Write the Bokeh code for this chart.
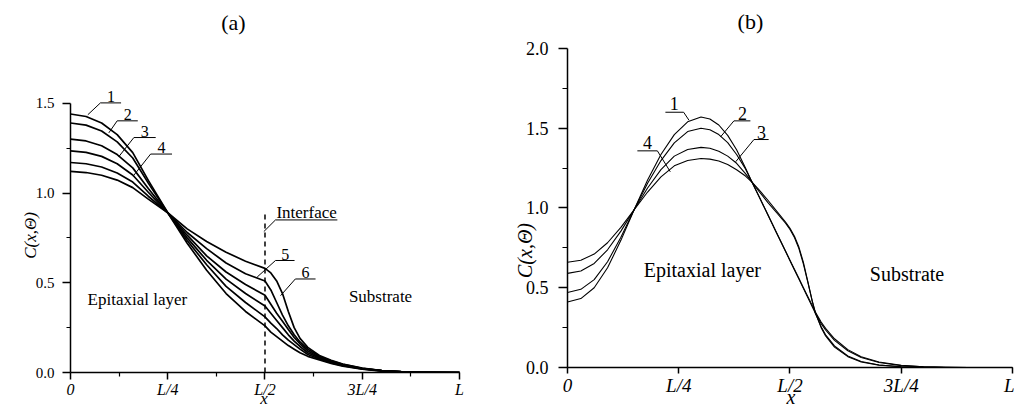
from bokeh.plotting import figure
from bokeh.models import Range1d, FixedTicker, PrintfTickFormatter
from bokeh.layouts import row
from bokeh.core.properties import value
from bokeh.embed import file_html
from bokeh.resources import INLINE

# ---------------- data: panel (a) ----------------
XA = [0, 0.04, 0.08, 0.12, 0.16, 0.20, 0.25, 0.30, 0.35, 0.40, 0.45, 0.50,
      0.515, 0.53, 0.545, 0.56, 0.575, 0.59, 0.61, 0.64, 0.67, 0.70, 0.75,
      0.80, 0.85, 0.90, 1.0]
A1 = [1.44, 1.426, 1.39, 1.325, 1.225, 1.07, 0.89, 0.72, 0.57, 0.44, 0.34, 0.26,
      0.225, 0.20, 0.175, 0.15, 0.13, 0.11, 0.09, 0.07, 0.05, 0.035, 0.018,
      0.008, 0.003, 0.001, 0]
A2 = [1.39, 1.378, 1.345, 1.285, 1.195, 1.055, 0.89, 0.735, 0.60, 0.48, 0.39, 0.31,
      0.275, 0.245, 0.21, 0.18, 0.155, 0.13, 0.10, 0.075, 0.054, 0.038, 0.02,
      0.009, 0.0035, 0.001, 0]
A3 = [1.30, 1.29, 1.263, 1.214, 1.14, 1.025, 0.89, 0.75, 0.625, 0.52, 0.44, 0.37,
      0.33, 0.29, 0.25, 0.21, 0.175, 0.145, 0.11, 0.08, 0.058, 0.041, 0.021,
      0.01, 0.004, 0.0015, 0]
A4 = [1.235, 1.226, 1.204, 1.163, 1.10, 1.004, 0.89, 0.765, 0.65, 0.56, 0.49, 0.43,
      0.38, 0.33, 0.285, 0.24, 0.195, 0.16, 0.12, 0.085, 0.062, 0.043, 0.022,
      0.01, 0.004, 0.0015, 0]
A5 = [1.17, 1.163, 1.145, 1.111, 1.061, 0.982, 0.89, 0.78, 0.69, 0.61, 0.55, 0.51,
      0.46, 0.39, 0.32, 0.26, 0.21, 0.17, 0.13, 0.09, 0.065, 0.045, 0.023,
      0.011, 0.0045, 0.0015, 0]
A6 = [1.12, 1.114, 1.099, 1.072, 1.03, 0.966, 0.89, 0.80, 0.73, 0.67, 0.62, 0.58,
      0.555, 0.51, 0.44, 0.34, 0.25, 0.19, 0.14, 0.095, 0.068, 0.047, 0.024,
      0.011, 0.0045, 0.0015, 0]
SERIES_A = [A1, A2, A3, A4, A5, A6]

# ---------------- data: panel (b) ----------------
XB = [0, 0.03, 0.06, 0.09, 0.12, 0.15, 0.18, 0.21, 0.24, 0.27, 0.30,
      0.32, 0.34, 0.36, 0.38, 0.40, 0.415,
      0.43, 0.45, 0.47, 0.49, 0.50, 0.51, 0.52, 0.53, 0.54, 0.55, 0.557,
      0.57, 0.58, 0.60, 0.63, 0.66, 0.70, 0.75, 0.80, 0.85, 0.90, 1.0]
B1 = [0.41, 0.432, 0.50, 0.625, 0.797, 0.99, 1.175, 1.335, 1.46, 1.54, 1.57,
      1.558, 1.52, 1.455, 1.365, 1.25, 1.16,
      1.073, 0.958, 0.842, 0.727, 0.669, 0.611, 0.554, 0.496, 0.438, 0.38, 0.34,
      0.275, 0.235, 0.17, 0.105, 0.063, 0.031, 0.012, 0.004, 0.0012, 0.0003, 0]
B2 = [0.47, 0.49, 0.551, 0.663, 0.816, 0.99, 1.155, 1.297, 1.408, 1.479, 1.50,
      1.49, 1.46, 1.41, 1.335, 1.245, 1.16,
      1.075, 0.96, 0.845, 0.73, 0.673, 0.616, 0.559, 0.502, 0.445, 0.388, 0.348,
      0.285, 0.245, 0.18, 0.112, 0.068, 0.034, 0.014, 0.005, 0.0015, 0.0004, 0]
B3 = [0.59, 0.605, 0.652, 0.738, 0.855, 0.99, 1.125, 1.24, 1.325, 1.366, 1.38,
      1.374, 1.356, 1.325, 1.28, 1.215, 1.16,
      1.105, 1.035, 0.97, 0.905, 0.865, 0.815, 0.745, 0.65, 0.535, 0.415, 0.34,
      0.255, 0.205, 0.135, 0.072, 0.038, 0.016, 0.005, 0.0015, 0.0004, 0, 0]
B4 = [0.66, 0.672, 0.711, 0.782, 0.878, 0.99, 1.10, 1.195, 1.264, 1.298, 1.31,
      1.306, 1.294, 1.272, 1.24, 1.20, 1.16,
      1.115, 1.05, 0.98, 0.912, 0.872, 0.823, 0.755, 0.66, 0.54, 0.418, 0.345,
      0.25, 0.198, 0.128, 0.068, 0.035, 0.015, 0.0045, 0.0013, 0.0003, 0, 0]
SERIES_B = [B1, B2, B3, B4]

# ---------------- ticks ----------------
X_TICKS = [0, 0.25, 0.5, 0.75, 1.0]
X_TICK_LABELS = ["0", "L/4", "L/2", "3L/4", "L"]
X_MINOR_A = [0.125, 0.375, 0.625, 0.875]
Y_TICKS_A = [0, 0.5, 1.0, 1.5]
Y_MINOR_A = [0.25, 0.75, 1.25]
Y_TICKS_B = [0, 0.5, 1.0, 1.5, 2.0]
Y_MINOR_B = [0.25, 0.75, 1.25, 1.75]
INTERFACE_X = 0.5

CURVE_NAMES_A = ["1", "2", "3", "4", "5", "6"]
CURVE_NAMES_B = ["1", "2", "3", "4"]
Y_LABEL = "C(x,Θ)"
X_LABEL = "x"

FONT = "Liberation Serif"
NB = "\u00a0"  # non-breaking space used only to offset the axis-label anchor


def style_axes(p, fs_x, fs_y, fs_lab, minor_x, y_ticks, y_minor, y_max, ylab, xlab):
    xa = p.xaxis[0]
    ya = p.yaxis[0]
    xa.ticker = FixedTicker(ticks=X_TICKS, minor_ticks=minor_x)
    xa.major_label_overrides = {t: l for t, l in zip(X_TICKS, X_TICK_LABELS)}
    xa.bounds = (0, 1)
    ya.ticker = FixedTicker(ticks=y_ticks, minor_ticks=y_minor)
    ya.formatter = PrintfTickFormatter(format="%.1f")
    ya.bounds = (0, y_max)
    xa.axis_label = xlab
    ya.axis_label = ylab
    for ax in (xa, ya):
        ax.axis_line_color = "black"
        ax.axis_line_width = 1.5
        ax.major_tick_line_color = "black"
        ax.major_tick_line_width = 1.5
        ax.minor_tick_line_color = "black"
        ax.minor_tick_line_width = 1.2
        ax.major_tick_in = 0
        ax.minor_tick_in = 0
        ax.major_label_text_font = FONT
        ax.major_label_text_color = "black"
        ax.axis_label_text_font = FONT
        ax.axis_label_text_font_style = "italic"
        ax.axis_label_text_font_size = fs_lab
        ax.axis_label_text_color = "black"
    xa.major_label_text_font_size = fs_x
    ya.major_label_text_font_size = fs_y
    xa.major_label_text_font_style = "italic"
    xa.major_tick_out = 7
    xa.minor_tick_out = 4
    xa.major_label_standoff = 1
    ya.major_tick_out = 8
    ya.minor_tick_out = 4
    ya.major_label_standoff = 8
    p.grid.visible = False
    p.outline_line_color = None


# ================= panel (a) =================
pa = figure(width=508, height=410, x_range=Range1d(0, 1.126), y_range=Range1d(0, 2.0),
            output_backend="svg", toolbar_location=None, title=None, frame_align=False,
            min_border_left=70, min_border_right=0, min_border_top=13, min_border_bottom=37)
style_axes(pa, "16px", "15px", "17px", X_MINOR_A, Y_TICKS_A, Y_MINOR_A, 1.5,
           Y_LABEL + NB * 20, X_LABEL + NB * 12)
pa.xaxis[0].axis_label_standoff = -12
pa.yaxis[0].axis_label_standoff = -7

for ys in SERIES_A:
    pa.line(XA, ys, line_color="black", line_width=1.7, line_join="round")

pa.line([INTERFACE_X, INTERFACE_X], [0, 0.90], line_color="black", line_width=1.5,
        line_dash="5 4")

# label leaders (curve point -> underline start -> underline end)
lead_a_xs = [[0.0445, 0.077, 0.130], [0.0985, 0.120, 0.173], [0.124, 0.163, 0.219],
             [0.161, 0.206, 0.261], [0.480, 0.527, 0.576], [0.540, 0.578, 0.630],
             [0.497, 0.527, 0.686]]
lead_a_ys = [[1.436, 1.502, 1.502], [1.335, 1.402, 1.402], [1.202, 1.309, 1.309],
             [1.094, 1.217, 1.217], [0.532, 0.624, 0.624], [0.428, 0.521, 0.521],
             [0.785, 0.85, 0.85]]
pa.multi_line(lead_a_xs, lead_a_ys, line_color="black", line_width=1.0)
pa.text([0.104, 0.147, 0.191, 0.234, 0.552, 0.604],
        [1.538, 1.438, 1.345, 1.253, 0.660, 0.557], text=CURVE_NAMES_A,
        text_font=value(FONT), text_font_size="16px", text_align="center",
        text_baseline="middle", text_color="black")
pa.text([0.607], [0.889], text=["Interface"], text_font=value(FONT), text_font_size="17px",
        text_align="center", text_baseline="middle", text_color="black")
pa.text([0.172, 0.797], [0.405, 0.422], text=["Epitaxial layer", "Substrate"],
        text_font=value(FONT), text_font_size="17px", text_align="center",
        text_baseline="middle", text_color="black")
pa.text([0.419], [1.95], text=["(a)"], text_font=value(FONT), text_font_size="22px",
        text_align="center", text_baseline="middle", text_color="black")

# ================= panel (b) =================
pb = figure(width=506, height=410, x_range=Range1d(0, 1.0045), y_range=Range1d(0, 2.219),
            output_backend="svg", toolbar_location=None, title=None, frame_align=False,
            min_border_left=59, min_border_right=0, min_border_top=13, min_border_bottom=42)
style_axes(pb, "19px", "18px", "20px", [], Y_TICKS_B, Y_MINOR_B, 2.0,
           Y_LABEL + NB * 24, X_LABEL)
pb.yaxis[0].major_tick_out = 9
pb.yaxis[0].minor_tick_out = 5
pb.yaxis[0].major_label_standoff = 10
pb.xaxis[0].major_tick_out = 6
pb.xaxis[0].axis_label_standoff = -13
pb.yaxis[0].axis_label_standoff = -13

for ys in SERIES_B:
    pb.line(XB, ys, line_color="black", line_width=1.1, line_join="round")

lead_b_xs = [[0.273, 0.261, 0.220], [0.344, 0.374, 0.411], [0.378, 0.419, 0.452],
             [0.231, 0.202, 0.157]]
lead_b_ys = [[1.55, 1.60, 1.60], [1.446, 1.546, 1.546], [1.29, 1.429, 1.429],
             [1.227, 1.358, 1.358]]
pb.multi_line(lead_b_xs, lead_b_ys, line_color="black", line_width=1.0)
pb.text([0.240, 0.393, 0.436, 0.180], [1.655, 1.595, 1.475, 1.41], text=CURVE_NAMES_B,
        text_font=value(FONT), text_font_size="18px", text_align="center",
        text_baseline="middle", text_color="black")
pb.text([0.303, 0.763], [0.6125, 0.5875], text=["Epitaxial layer", "Substrate"],
        text_font=value(FONT), text_font_size="20px", text_align="center",
        text_baseline="middle", text_color="black")
pb.text([0.411], [2.166], text=["(b)"], text_font=value(FONT), text_font_size="22px",
        text_align="center", text_baseline="middle", text_color="black")

layout = row(pa, pb)
open("out.html", "w").write(file_html(layout, INLINE))
